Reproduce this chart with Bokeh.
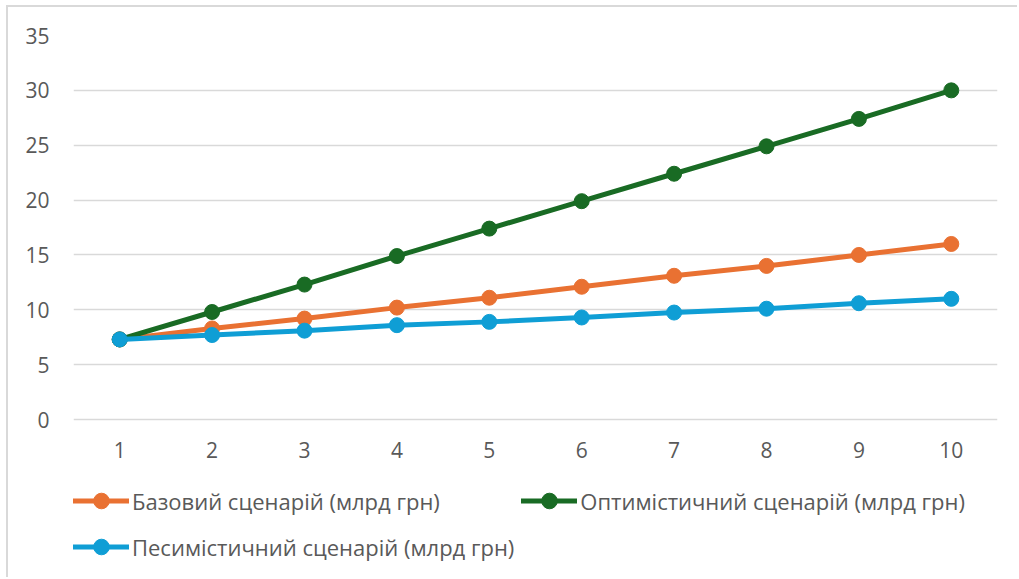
from bokeh.plotting import figure
from bokeh.models import ColumnDataSource, Legend, LegendItem, FixedTicker, Range1d
from bokeh.embed import file_html
from bokeh.resources import INLINE

years = [1, 2, 3, 4, 5, 6, 7, 8, 9, 10]
base = [7.3, 8.3, 9.2, 10.2, 11.1, 12.1, 13.1, 14.0, 15.0, 16.0]
optimistic = [7.3, 9.8, 12.3, 14.9, 17.4, 19.9, 22.4, 24.9, 27.4, 30.0]
pessimistic = [7.3, 7.7, 8.1, 8.6, 8.9, 9.3, 9.75, 10.1, 10.6, 11.0]
y_ticks = [0, 5, 10, 15, 20, 25, 30, 35]

names = ["Базовий сценарій (млрд грн)",
         "Оптимістичний сценарій (млрд грн)",
         "Песимістичний сценарій (млрд грн)"]
colors = ["#E97132", "#196B24", "#0F9ED5"]

FONT = "Open Sans"
TXT = "#595959"

# frame: top at 35px, y=0 at 419px, frame bottom at the figure bottom (room for the legend)
p = figure(width=1011, height=572, output_backend="svg", toolbar_location=None,
           x_range=Range1d(0.5, 10.5), y_range=Range1d(-14.58, 35),
           min_border_left=65, min_border_right=22, min_border_top=28,
           min_border_bottom=0)
p.styles = {"margin-left": "6px", "margin-top": "5px",
            "border-left": "2px solid #d9d9d9", "border-top": "2px solid #d9d9d9"}
p.outline_line_color = None
p.background_fill_color = "white"
p.border_fill_color = "white"

p.xgrid.grid_line_color = None
p.ygrid.grid_line_color = "#d9d9d9"
p.ygrid.grid_line_width = 1.5

p.xaxis.ticker = FixedTicker(ticks=years)
p.yaxis.ticker = FixedTicker(ticks=y_ticks)
p.xaxis.fixed_location = 0
for ax in (p.xaxis, p.yaxis):
    ax.axis_line_color = None
    ax.major_tick_line_color = None
    ax.minor_tick_line_color = None
    ax.major_label_text_font = FONT
    ax.major_label_text_font_size = "21px"
    ax.major_label_text_color = TXT
p.xaxis.major_label_standoff = 16
p.yaxis.major_label_standoff = 18

series = [base, optimistic, pessimistic]
renderers = []
for vals, col in zip(series, colors):
    src = ColumnDataSource(data=dict(x=years, y=vals))
    lr = p.line("x", "y", source=src, line_color=col, line_width=5, line_cap="round")
    sr = p.scatter("x", "y", source=src, size=15, fill_color=col, line_color=col)
    renderers.append([lr, sr])

# column-major legend: col 1 = base, pessimistic; col 2 = optimistic
order = [0, 2, 1]
items = [LegendItem(label=names[i], renderers=renderers[i]) for i in order]

legend = Legend(items=items, location=(0, 13), ncols=2,
                label_text_font=FONT, label_text_font_size="22px",
                label_text_color=TXT, glyph_width=56, glyph_height=39,
                label_height=39, label_standoff=3, spacing=7,
                padding=0, margin=0,
                border_line_color=None, background_fill_alpha=0)
p.add_layout(legend, "center")

open("out.html", "w").write(file_html(p, INLINE))
